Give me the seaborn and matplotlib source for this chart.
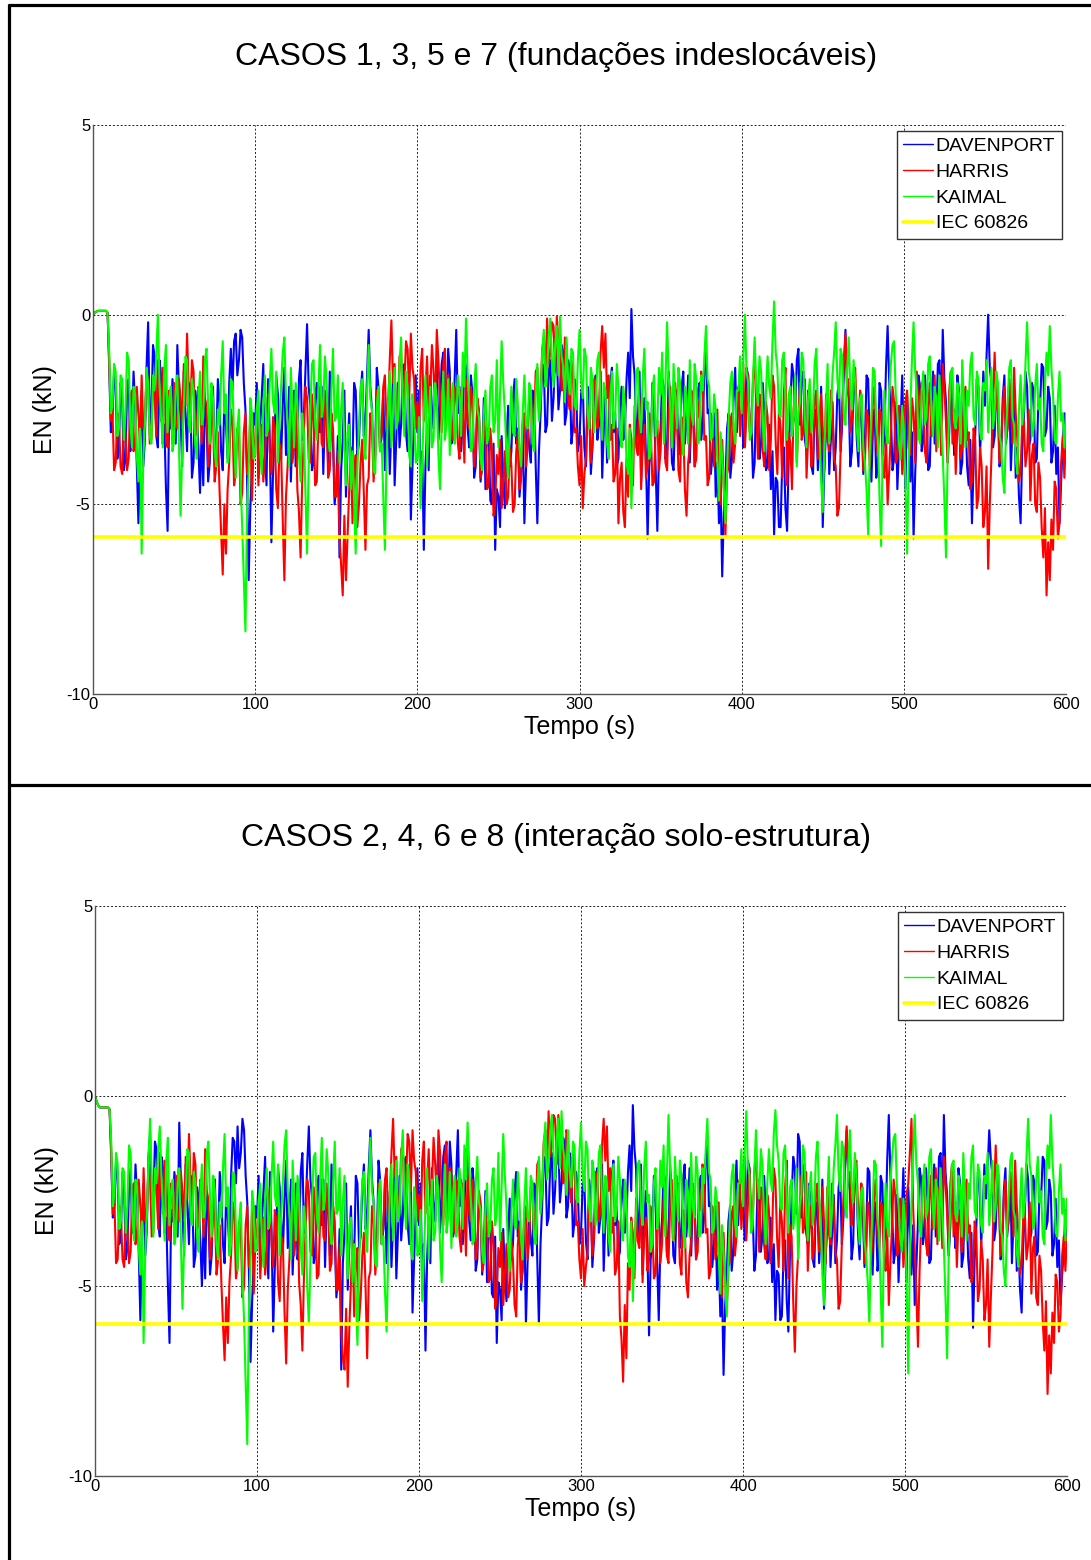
import numpy as np
import pandas as pd
import matplotlib
matplotlib.use("Agg")
import matplotlib.pyplot as plt
from matplotlib.lines import Line2D
import seaborn as sns

# ---------------------------------------------------------------- data
series_names = ["DAVENPORT", "HARRIS", "KAIMAL"]
iec_name = "IEC 60826"
series_colors = ["#0000ff", "#ff0000", "#00ff00"]
iec_color = "#ffff00"

title_top = "CASOS 1, 3, 5 e 7 (fundações indeslocáveis)"
title_bottom = "CASOS 2, 4, 6 e 8 (interação solo-estrutura)"
x_label = "Tempo (s)"
y_label = "EN (kN)"
x_ticks = [0, 100, 200, 300, 400, 500, 600]
y_ticks = [-10, -5, 0, 5]

# normal force (kN) sampled every second, 0 s .. 600 s -- fixed foundations
top_davenport = [
    0.0, 0.05, 0.08, 0.1, 0.1, 0.1, 0.1, 0.1, 0.1, 0.05,
    -1.4, -3.1, -2.7, -1.5, -1.9, -3.8, -3.4, -1.8, -2.2, -4.1,
    -3.8, -2.0, -1.7, -3.6, -3.1, -1.5, -2.4, -3.9, -5.5, -3.2,
    -2.0, -4.0, -3.3, -1.4, -0.2, -2.9, -2.6, -0.8, -1.1, -3.2,
    -3.5, -1.2, -1.6, -3.4, -2.9, -4.6, -5.7, -2.5, -3.0, -1.7,
    -2.2, -3.4, -0.8, -2.0, -2.7, -4.0, -1.5, -2.6, -3.6, -1.8,
    -2.1, -4.3, -3.9, -2.0, -2.4, -3.5, -4.7, -3.1, -4.5, -2.2,
    -2.8, -4.4, -3.9, -2.3, -1.9, -3.7, -3.4, -1.7, -2.3, -3.6,
    -4.1, -2.2, -2.9, -3.8, -1.8, -0.9, -2.0, -0.7, -0.5, -1.6,
    -1.2, -0.4, -0.6, -1.8, -2.5, -4.3, -7.0, -5.1, -4.0, -2.6,
    -2.9, -1.8, -4.3, -3.0, -2.2, -1.3, -3.6, -4.5, -1.7, -3.3,
    -6.0, -4.2, -3.2, -1.6, -2.1, -3.0, -3.8, -2.4, -1.4, -3.7,
    -2.9, -1.9, -4.4, -3.1, -2.0, -4.0, -3.5, -1.7, -1.2, -3.3,
    -2.7, -1.5, -0.25, -1.9, -2.4, -4.1, -3.9, -2.2, -1.8, -3.0,
    -3.1, -1.9, -4.2, -2.6, -2.3, -3.9, -1.5, -2.8, -3.4, -5.0,
    -4.5, -3.2, -6.4, -4.1, -3.3, -2.0, -4.8, -3.5, -2.6, -4.4,
    -3.9, -1.8, -2.0, -3.7, -3.4, -2.1, -1.5, -3.2, -2.8, -1.6,
    -0.4, -1.9, -2.5, -4.0, -3.7, -1.4, -1.9, -3.6, -3.2, -2.0,
    -4.1, -3.0, -2.2, -4.2, -3.0, -1.6, -4.5, -3.3, -1.8, -3.5,
    -2.9, -1.4, -1.3, -3.1, -3.6, -2.2, -5.4, -4.0, -2.7, -1.6,
    -3.1, -2.0, -4.8, -3.6, -6.2, -4.0, -2.9, -4.1, -1.6, -2.5,
    -3.0, -1.9, -1.2, -3.3, -2.4, -1.3, -1.0, -2.9, -2.7, -0.9,
    -1.5, -3.4, -3.2, -1.7, -0.4, -2.6, -1.9, -3.6, -2.8, -1.1,
    -1.4, -3.0, -3.5, -1.6, -2.1, -4.3, -4.0, -2.3, -2.6, -4.4,
    -3.8, -2.2, -4.6, -3.0, -3.1, -4.9, -5.0, -3.4, -6.2, -4.6,
    -4.8, -5.6, -3.2, -4.4, -5.1, -3.3, -2.4, -4.0, -3.6, -2.2,
    -1.7, -3.4, -3.0, -4.8, -4.2, -2.9, -5.5, -4.1, -2.8, -3.5,
    -3.9, -2.0, -2.1, -4.0, -5.5, -3.6, -2.6, -1.3, -1.4, -3.1,
    -2.9, -1.5, -1.2, -2.8, -2.2, -1.0, -0.9, -2.5, -2.0, -0.8,
    -1.0, -2.9, -2.6, -1.2, -1.5, -3.4, -3.0, -1.7, -2.1, -3.6,
    -3.3, -2.1, -1.8, -3.5, -4.0, -1.9, -2.3, -4.2, -3.5, -2.0,
    -1.6, -3.3, -2.9, -1.5, -4.3, -3.0, -2.0, -3.9, -3.2, -1.8,
    -1.4, -3.1, -2.6, -4.0, -3.8, -2.4, -1.9, -3.3, -3.0, -1.7,
    -1.0, -2.2, 0.15, -1.1, -1.6, -3.4, -2.8, -1.5, -4.4, -3.1,
    -2.2, -3.8, -5.9, -4.0, -3.4, -1.8, -2.5, -4.1, -5.7, -3.6,
    -3.0, -1.7, -1.9, -3.8, -3.6, -1.5, -2.4, -3.9, -4.1, -2.6,
    -2.0, -3.7, -3.3, -1.9, -1.5, -3.4, -2.7, -1.6, -3.9, -2.5,
    -2.2, -4.0, -3.4, -2.0, -1.8, -3.3, -2.9, -1.4, -1.0, -2.6,
    -2.5, -4.2, -3.7, -2.6, -4.8, -3.9, -5.5, -4.6, -6.9, -5.2,
    -4.4, -3.0, -2.6, -4.3, -3.8, -2.2, -1.4, -3.1, -2.2, -1.5,
    -2.0, -3.5, -3.3, -1.4, -1.6, -3.0, -2.8, -4.3, -3.9, -1.9,
    -2.2, -3.8, -3.4, -1.8, -2.6, -4.1, -4.0, -2.9, -4.6, -3.6,
    -5.8, -4.3, -4.4, -5.6, -5.6, -3.9, -3.5, -5.1, -5.7, -3.8,
    -2.4, -1.3, -1.6, -2.8, -1.2, -0.9, -2.9, -1.6, -1.5, -3.3,
    -3.6, -2.0, -2.1, -4.0, -4.2, -2.5, -2.7, -4.1, -3.3, -1.9,
    -5.6, -4.0, -3.1, -1.9, -4.2, -3.3, -2.3, -4.1, -3.5, -2.1,
    -1.8, -3.6, -2.9, -1.5, -0.4, -1.9, -2.2, -4.0, -3.6, -1.7,
    -1.9, -3.3, -4.0, -2.1, -2.8, -4.2, -3.4, -1.6, -1.7, -3.5,
    -4.4, -2.9, -2.5, -4.3, -3.9, -1.8, -2.0, -3.7, -3.2, -1.4,
    -0.3, -1.8, -2.6, -4.1, -3.8, -2.3, -4.6, -3.5, -2.9, -1.6,
    -3.5, -4.6, -2.1, -3.2, -4.4, -3.1, -5.9, -4.2, -3.0, -1.6,
    -1.9, -3.6, -3.3, -1.6, -2.4, -4.1, -4.0, -2.3, -1.5, -3.4,
    -2.7, -1.3, -1.2, -2.8, -0.4, -1.7, -2.3, -3.9, -3.1, -1.6,
    -1.8, -3.7, -3.5, -1.6, -2.0, -4.2, -3.9, -2.1, -2.6, -4.0,
    -4.5, -3.3, -5.5, -4.0, -3.2, -1.7, -1.9, -3.6, -2.8, -1.5,
    -2.4, -1.1, 0.0, -1.4, -1.8, -3.5, -3.2, -1.9, -2.1, -4.0,
    -3.7, -2.2, -1.6, -3.4, -2.9, -1.7, -4.1, -3.0, -2.3, -4.3,
    -3.5, -4.8, -5.5, -3.6, -2.7, -1.5, -1.9, -3.5, -3.3, -1.8,
    -2.0, -3.9, -3.8, -2.2, -2.4, -1.3, -1.4, -3.2, -3.0, -1.9,
    -2.2, -3.9, -3.6, -2.4, -4.2, -3.5, -5.5, -4.4, -3.4, -2.6,
    -3.4,
]
top_harris = [
    0.0, 0.05, 0.08, 0.1, 0.1, 0.1, 0.1, 0.1, 0.1, 0.05,
    -1.2, -2.8, -2.5, -4.1, -3.9, -2.6, -2.8, -4.0, -4.2, -3.0,
    -3.1, -4.1, -3.8, -2.2, -2.0, -3.6, -3.4, -1.9, -2.6, -3.5,
    -1.6, -3.0, -2.9, -1.5, -1.9, -3.4, -3.3, -1.8, -2.1, -3.2,
    -1.2, -2.3, -2.8, -1.4, -1.7, -3.3, -3.5, -2.0, -2.4, -3.4,
    -1.8, -2.9, -3.0, -1.7, -2.2, -3.0, -1.3, -2.4, -0.5, -1.9,
    -2.6, -1.2, -1.5, -3.2, -3.1, -1.9, -2.0, -3.4, -1.1, -2.2,
    -2.4, -4.0, -3.6, -2.3, -2.7, -4.4, -4.0, -3.1, -4.6, -5.7,
    -6.85, -5.0, -6.3, -4.6, -3.9, -2.5, -2.8, -4.5, -4.2, -3.0,
    -3.2, -5.0, -4.7, -3.1, -2.6, -4.2, -3.8, -2.7, -4.9, -3.5,
    -3.3, -2.4, -4.5, -3.3, -2.9, -4.4, -3.8, -2.5, -2.1, -3.6,
    -4.2, -2.7, -3.0, -4.6, -5.1, -3.4, -3.6, -5.4, -7.0, -4.8,
    -4.0, -2.9, -2.5, -3.9, -3.4, -2.3, -4.6, -5.2, -6.4, -4.4,
    -3.2, -1.9, -2.2, -3.8, -3.9, -2.1, -2.8, -4.5, -4.4, -2.9,
    -1.9, -3.4, -3.5, -2.0, -2.7, -4.3, -4.1, -2.6, -3.0, -4.8,
    -4.8, -3.6, -5.9, -6.6, -7.4, -5.3, -7.0, -5.8, -4.6, -3.5,
    -5.5, -4.2, -3.7, -5.6, -5.0, -3.9, -3.3, -4.7, -6.2, -4.5,
    -4.3, -2.6, -2.9, -4.4, -3.8, -2.0, -2.2, -3.6, -3.1, -1.9,
    -1.6, -3.0, -2.4, -1.2, -0.15, -1.8, -1.3, -2.9, -2.5, -1.1,
    -1.0, -2.6, -1.9, -0.7, -0.9, -2.2, -0.5, -1.4, -1.7, -3.0,
    -2.3, -3.3, -1.4, -0.9, -2.8, -2.0, -1.1, -2.6, -2.0, -0.8,
    -1.5, -2.4, -0.4, -1.2, -2.2, -3.1, -1.3, -0.9, -2.7, -1.6,
    -1.8, -3.0, -3.3, -1.9, -2.1, -3.4, -3.8, -2.0, -2.6, -3.9,
    -1.7, -2.8, -3.0, -1.9, -2.3, -4.0, -3.7, -2.2, -2.5, -4.3,
    -4.1, -2.8, -3.2, -4.6, -4.5, -3.0, -3.6, -5.3, -5.0, -3.7,
    -4.2, -3.3, -5.1, -4.4, -3.6, -5.0, -4.8, -3.5, -4.0, -5.2,
    -5.0, -3.6, -3.1, -4.6, -4.3, -2.8, -2.6, -4.0, -3.5, -2.1,
    -2.0, -3.4, -2.9, -1.5, -1.4, -2.7, -2.2, -0.9, -0.6, -1.7,
    -0.1, -1.3, -1.0, -0.2, -0.3, -1.5, -0.05, -0.7, -0.9, -2.0,
    -1.8, -0.6, -0.8, -2.2, -2.5, -1.2, -1.6, -3.1, -3.0, -4.0,
    -4.5, -3.2, -5.1, -4.2, -3.8, -2.4, -2.6, -3.9, -3.4, -1.7,
    -1.8, -3.0, -2.7, -1.0, -0.3, -1.4, -0.5, -2.2, -1.6, -3.3,
    -2.9, -4.4, -4.2, -3.0, -5.5, -4.3, -3.9, -5.2, -5.6, -3.8,
    -4.8, -2.9, -3.3, -4.5, -2.4, -3.5, -3.7, -2.2, -4.6, -3.4,
    -2.9, -4.3, -4.0, -2.6, -3.1, -4.5, -4.4, -3.0, -2.8, -4.1,
    -3.6, -2.4, -2.2, -3.9, -4.1, -2.6, -1.9, -3.5, -3.3, -1.8,
    -2.5, -4.1, -4.4, -2.7, -3.0, -4.6, -5.3, -3.9, -3.5, -2.0,
    -2.4, -4.0, -3.8, -2.3, -2.7, -1.5, -1.8, -3.3, -3.2, -4.5,
    -4.3, -2.6, -2.9, -4.0, -3.6, -2.5, -4.5, -5.0, -3.3, -4.6,
    -5.8, -4.2, -4.0, -2.8, -2.6, -3.9, -3.4, -2.1, -1.9, -3.2,
    -2.4, -1.3, -3.5, -2.6, -1.6, -3.1, -2.9, -1.7, -1.1, -2.5,
    -3.8, -2.1, -2.2, -3.6, -4.0, -2.3, -2.7, -4.1, -3.3, -1.6,
    -1.9, -3.4, -4.2, -2.5, -3.0, -4.3, -2.1, -1.4, -4.5, -3.1,
    -3.4, -4.6, -2.5, -1.9, -3.9, -2.8, -1.8, -3.3, -3.1, -1.7,
    -4.3, -3.2, -2.6, -4.0, -3.7, -2.2, -2.0, -3.8, -3.5, -2.1,
    -3.0, -4.1, -2.1, -3.3, -3.6, -2.0, -2.5, -3.8, -4.0, -5.3,
    -5.1, -3.6, -2.4, -1.3, -0.5, -1.9, -1.7, -3.1, -2.8, -1.6,
    -1.4, -2.6, -3.2, -2.0, -2.2, -4.1, -3.9, -2.5, -2.7, -4.0,
    -3.4, -2.2, -1.9, -3.4, -3.7, -2.5, -2.6, -4.0, -4.3, -3.2,
    -5.0, -4.1, -3.1, -1.9, -2.3, -3.9, -3.8, -2.4, -2.9, -4.2,
    -3.4, -2.3, -2.0, -3.5, -3.7, -2.2, -2.6, -3.9, -1.5, -2.4,
    -3.0, -1.8, -2.2, -3.6, -3.9, -2.4, -1.8, -3.2, -2.9, -1.6,
    -3.6, -2.1, -2.4, -3.7, -1.3, -2.0, -2.8, -3.9, -2.0, -1.5,
    -3.4, -2.5, -4.2, -3.0, -2.7, -3.8, -3.5, -2.3, -1.9, -3.3,
    -3.1, -4.6, -4.4, -3.0, -3.3, -5.1, -4.8, -3.5, -4.0, -5.6,
    -5.2, -4.0, -6.7, -5.0, -3.8, -2.2, -1.0, -2.3, -2.6, -3.9,
    -3.5, -2.4, -1.9, -3.3, -3.0, -1.7, -2.2, -3.4, -1.4, -2.6,
    -3.3, -4.4, -4.1, -2.9, -2.8, -4.0, -3.6, -2.5, -4.9, -3.7,
    -3.4, -5.0, -5.2, -3.9, -4.3, -5.6, -6.4, -5.1, -7.4, -6.0,
    -7.0, -5.4, -6.2, -4.4, -4.6, -5.9, -5.5, -3.9, -3.2, -4.3,
    -3.2,
]
top_kaimal = [
    0.0, 0.05, 0.08, 0.1, 0.1, 0.1, 0.1, 0.1, 0.1, 0.05,
    -1.0, -2.6, -2.4, -1.3, -1.5, -3.2, -3.0, -1.6, -1.7, -3.3,
    -2.6, -1.0, -1.2, -2.8, -3.5, -1.9, -2.1, -3.7, -4.4, -3.0,
    -6.3, -3.8, -2.9, -1.4, -1.8, -3.2, -3.4, -1.6, -2.0, -1.1,
    0.0, -1.8, -2.7, -3.5, -1.4, -0.8, -3.1, -2.2, -1.9, -3.6,
    -3.3, -2.0, -1.6, -3.4, -5.3, -3.6, -2.4, -1.1, -1.2, -2.9,
    -3.1, -1.7, -2.0, -3.4, -3.8, -2.3, -1.5, -2.9, -2.7, -1.2,
    -0.9, -2.4, -3.4, -1.8, -2.2, -3.6, -4.0, -2.5, -2.9, -1.6,
    -0.7, -2.6, -2.1, -3.9, -3.6, -1.7, -1.8, -3.2, -4.3, -3.0,
    -2.5, -4.4, -5.6, -7.0, -8.35, -5.2, -4.1, -2.2, -2.6, -3.8,
    -3.7, -2.5, -2.0, -3.5, -4.2, -2.4, -1.6, -3.2, -3.0, -1.8,
    -0.9, -2.3, -2.6, -1.5, -3.9, -2.8, -1.9, -1.0, -0.6, -2.2,
    -2.8, -4.0, -1.4, -2.5, -3.5, -1.8, -2.3, -3.7, -4.4, -2.6,
    -3.1, -4.7, -6.3, -4.0, -2.5, -1.3, -1.2, -2.9, -3.3, -1.9,
    -0.8, -2.7, -2.4, -1.1, -1.7, -3.2, -3.6, -2.0, -0.9, -2.8,
    -2.7, -1.6, -3.9, -2.5, -1.8, -3.4, -4.5, -3.1, -2.9, -4.6,
    -3.6, -4.9, -6.3, -4.1, -3.0, -1.9, -1.7, -3.3, -3.8, -2.0,
    -0.8, -2.2, -2.5, -4.1, -4.2, -2.4, -1.9, -3.6, -3.4, -4.8,
    -6.2, -3.9, -2.3, -1.5, -3.5, -2.6, -1.4, -3.0, -2.8, -1.3,
    -0.6, -2.4, -3.2, -1.5, -1.9, -3.7, -4.0, -2.1, -2.6, -3.9,
    -3.8, -2.7, -5.1, -3.9, -2.6, -1.6, -4.0, -2.8, -1.9, -3.5,
    -3.3, -1.8, -2.2, -3.7, -4.6, -2.9, -1.5, -3.3, -2.9, -1.7,
    -3.7, -2.3, -1.8, -3.4, -3.0, -1.6, -2.1, -3.2, -1.0, -1.9,
    -0.1, -1.5, -2.4, -3.6, -3.5, -2.0, -1.3, -2.5, -2.7, -3.8,
    -4.1, -2.6, -2.0, -3.4, -3.2, -1.9, -1.6, -3.1, -2.8, -1.2,
    -3.5, -2.1, -0.7, -1.8, -2.6, -3.7, -4.3, -2.8, -1.9, -3.1,
    -3.2, -1.7, -2.4, -3.5, -4.0, -2.6, -1.6, -2.9, -3.0, -1.8,
    -2.0, -3.4, -3.6, -2.1, -1.3, -2.8, -2.2, -1.0, -0.4, -1.9,
    -1.5, -0.6, -0.1, -1.2, -1.9, -0.8, -0.3, -1.6, -0.05, -1.1,
    -1.4, -2.3, -0.6, -1.7, -2.1, -0.9, -1.0, -2.4, -2.5, -1.2,
    -0.4, -1.7, -2.2, -0.9, -1.1, -2.6, -3.0, -1.4, -1.7, -3.1,
    -2.5, -1.2, -1.0, -2.4, -3.3, -1.8, -2.0, -3.4, -3.8, -2.2,
    -1.5, -3.0, -2.7, -1.3, -1.9, -3.2, -3.5, -1.9, -2.4, -3.9,
    -4.2, -3.0, -5.1, -3.6, -2.8, -1.5, -1.4, -2.7, -3.1, -1.6,
    -0.9, -2.5, -2.3, -3.8, -3.6, -2.0, -1.6, -3.2, -2.9, -1.4,
    -2.1, -1.0, -3.4, -1.8, -0.2, -1.6, -2.5, -3.5, -1.3, -2.2,
    -3.0, -1.4, -1.8, -3.2, -3.7, -1.9, -2.2, -3.4, -1.2, -2.6,
    -2.9, -1.3, -1.7, -3.4, -3.3, -1.6, -2.0, -1.1, -0.3, -1.7,
    -1.9, -3.3, -3.2, -2.1, -2.5, -3.9, -4.9, -3.1, -3.8, -4.6,
    -5.5, -4.0, -2.7, -1.8, -1.5, -3.0, -3.4, -2.0, -2.0, -1.1,
    -2.6, -1.2, 0.0, -1.5, -1.8, -3.3, -3.1, -1.7, -0.6, -1.9,
    -2.4, -1.1, -1.5, -2.9, -3.6, -2.0, -1.1, -1.9, -2.2, -0.7,
    0.35, -1.0, -1.4, -2.6, -2.7, -1.2, -1.0, -2.3, -3.3, -2.1,
    -1.9, -3.2, -2.8, -1.6, -4.0, -2.6, -2.3, -1.0, -1.2, -2.8,
    -3.5, -2.2, -1.7, -3.1, -2.6, -1.3, -0.9, -2.4, -3.0, -4.4,
    -5.2, -3.5, -2.4, -1.3, -3.4, -2.7, -1.6, -1.0, -0.2, -1.7,
    -2.2, -0.9, -1.1, -2.6, -2.9, -1.5, -0.6, -2.0, -2.5, -1.2,
    -1.8, -3.0, -3.6, -2.2, -2.1, -3.5, -3.9, -4.6, -5.8, -3.6,
    -2.7, -1.4, -1.5, -2.9, -3.3, -4.8, -6.1, -3.5, -2.0, -3.1,
    -3.4, -2.0, -1.3, -0.8, -0.7, -2.1, -2.6, -3.4, -3.8, -2.4,
    -3.0, -4.4, -6.3, -3.9, -2.5, -1.2, -0.2, -1.5, -2.0, -3.2,
    -3.4, -2.0, -1.5, -2.9, -2.7, -1.3, -1.1, -2.5, -3.2, -1.9,
    -2.2, -3.5, -1.6, -2.8, -3.7, -4.9, -6.4, -3.8, -2.6, -1.5,
    -1.4, -2.8, -3.0, -1.8, -2.1, -3.4, -1.2, -2.3, -3.5, -2.0,
    -2.4, -1.3, -1.0, -2.7, -2.9, -1.5, -1.7, -3.1, -3.3, -1.8,
    -2.0, -1.2, -3.1, -2.4, -1.4, -3.0, -2.6, -1.5, -1.8, -3.2,
    -3.4, -4.3, -4.7, -3.1, -2.3, -1.4, -1.2, -2.7, -2.9, -3.8,
    -4.2, -2.5, -1.6, -2.9, -2.5, -1.3, -0.2, -1.5, -1.8, -3.2,
    -3.0, -1.9, -1.3, -2.5, -2.2, -3.4, -3.6, -1.9, -1.0, -1.6,
    -0.3, -1.4, -2.1, -3.3, -3.4, -2.2, -1.5, -2.8, -2.6, -3.5,
    -2.6,
]
iec_top = -5.87

# normal force (kN) sampled every second, 0 s .. 600 s -- soil-structure interaction
bot_davenport = [
    0.0, -0.15, -0.25, -0.3, -0.3, -0.3, -0.3, -0.3, -0.3, -0.35,
    -1.6, -3.2, -2.9, -1.7, -2.1, -3.9, -3.6, -2.0, -2.5, -4.3,
    -4.0, -2.4, -1.9, -3.6, -3.3, -1.8, -2.7, -4.1, -5.9, -3.4,
    -2.3, -4.2, -3.5, -1.6, -1.0, -2.6, -2.9, -1.2, -1.4, -3.3,
    -3.7, -1.6, -1.9, -3.6, -3.2, -5.0, -6.5, -3.0, -3.3, -2.0,
    -2.5, -3.7, -0.7, -2.2, -3.0, -4.2, -1.8, -2.9, -3.9, -2.1,
    -2.4, -4.5, -4.2, -2.4, -2.7, -3.8, -5.0, -3.4, -4.8, -2.6,
    -3.1, -4.7, -4.2, -2.6, -2.2, -4.0, -3.7, -2.0, -2.6, -3.9,
    -4.4, -2.5, -3.2, -4.1, -2.1, -1.1, -1.2, -2.3, -0.8, -1.9,
    -1.5, -0.6, -0.9, -2.1, -2.8, -4.6, -7.0, -5.4, -4.3, -2.9,
    -3.2, -2.1, -4.6, -3.3, -2.5, -1.6, -3.9, -4.8, -2.0, -3.6,
    -6.2, -4.5, -3.5, -1.9, -2.4, -3.3, -4.1, -2.7, -1.7, -4.0,
    -3.2, -2.2, -4.7, -3.4, -2.3, -4.3, -3.8, -2.0, -1.5, -3.6,
    -3.0, -1.8, -0.8, -2.2, -2.7, -4.4, -4.2, -2.5, -2.1, -3.3,
    -3.4, -2.2, -4.5, -2.9, -2.6, -4.2, -1.8, -3.1, -3.7, -5.3,
    -4.8, -3.5, -7.2, -4.4, -3.6, -2.3, -5.1, -3.8, -2.9, -4.7,
    -4.2, -2.1, -2.3, -4.0, -3.7, -2.4, -1.8, -3.5, -3.1, -1.9,
    -0.9, -2.2, -2.8, -4.3, -4.0, -1.7, -2.2, -3.9, -3.5, -2.3,
    -4.4, -3.3, -2.5, -4.5, -3.3, -1.9, -4.8, -3.6, -2.1, -3.8,
    -3.2, -1.7, -1.6, -3.4, -3.9, -2.5, -5.7, -4.3, -3.0, -1.9,
    -3.4, -2.3, -5.1, -3.9, -6.7, -4.3, -3.2, -4.4, -1.9, -2.8,
    -3.3, -2.2, -1.5, -3.6, -2.7, -1.6, -1.3, -3.2, -3.0, -1.2,
    -1.8, -3.7, -3.5, -2.0, -0.9, -2.9, -2.2, -3.9, -3.1, -1.4,
    -1.7, -3.3, -3.8, -1.9, -2.4, -4.6, -4.3, -2.6, -2.9, -4.7,
    -4.1, -2.5, -4.9, -3.3, -3.4, -5.2, -5.3, -3.7, -6.5, -4.9,
    -5.1, -5.9, -3.5, -4.7, -5.4, -3.6, -2.7, -4.3, -3.9, -2.5,
    -2.0, -3.7, -3.3, -5.1, -4.5, -3.2, -6.0, -4.4, -3.1, -3.8,
    -4.2, -2.3, -2.4, -4.3, -6.0, -3.9, -2.9, -1.6, -1.7, -3.4,
    -3.2, -1.8, -1.5, -3.1, -2.5, -1.3, -1.2, -2.8, -2.3, -1.1,
    -1.3, -3.2, -2.9, -1.5, -1.8, -3.7, -3.3, -2.0, -2.4, -3.9,
    -3.6, -2.4, -2.1, -3.8, -4.3, -2.2, -2.6, -4.5, -3.8, -2.3,
    -1.9, -3.6, -3.2, -1.8, -4.6, -3.3, -2.3, -4.2, -3.5, -2.1,
    -1.7, -3.4, -2.9, -4.3, -4.1, -2.7, -2.2, -3.6, -3.3, -2.0,
    -1.3, -2.5, -0.24, -1.4, -1.9, -3.7, -3.1, -1.8, -4.7, -3.4,
    -2.5, -4.1, -6.3, -4.3, -3.7, -2.1, -2.8, -4.4, -5.9, -3.9,
    -3.3, -2.0, -2.2, -4.1, -3.9, -1.8, -2.7, -4.2, -4.4, -2.9,
    -2.3, -4.0, -3.6, -2.2, -1.8, -3.7, -3.0, -1.9, -4.2, -2.8,
    -2.5, -4.3, -3.7, -2.3, -2.1, -3.6, -3.2, -1.7, -1.3, -2.9,
    -2.8, -4.5, -4.0, -2.9, -5.1, -4.2, -5.8, -4.9, -7.34, -5.5,
    -4.7, -3.3, -2.9, -4.6, -4.1, -2.5, -1.7, -3.4, -2.5, -1.8,
    -2.3, -3.8, -3.6, -1.7, -1.9, -3.3, -3.1, -4.6, -4.2, -2.2,
    -2.5, -4.1, -3.7, -2.1, -2.9, -4.4, -4.3, -3.2, -4.9, -3.9,
    -5.9, -4.6, -4.7, -5.9, -5.8, -4.2, -3.8, -5.4, -6.2, -4.1,
    -2.7, -1.6, -1.9, -3.1, -1.0, -1.2, -3.2, -1.9, -1.8, -3.6,
    -3.9, -2.3, -2.4, -4.3, -4.5, -2.8, -3.0, -4.4, -3.6, -2.2,
    -5.6, -4.3, -3.4, -2.2, -4.5, -3.6, -2.6, -4.4, -3.8, -2.4,
    -2.1, -3.9, -3.2, -1.8, -0.9, -2.2, -2.5, -4.3, -3.9, -2.0,
    -2.2, -3.6, -4.3, -2.4, -3.1, -4.5, -3.7, -1.9, -2.0, -3.8,
    -4.7, -3.2, -2.8, -4.6, -4.2, -2.1, -2.3, -4.0, -3.5, -1.7,
    -0.5, -2.1, -2.9, -4.4, -4.1, -2.6, -4.9, -3.8, -3.2, -1.9,
    -3.8, -4.9, -2.4, -3.5, -4.7, -3.4, -5.5, -4.5, -3.3, -1.9,
    -2.2, -3.9, -3.6, -1.9, -2.7, -4.4, -4.3, -2.6, -1.8, -3.7,
    -3.0, -1.6, -1.5, -3.1, -0.5, -2.0, -2.6, -4.2, -3.4, -1.9,
    -2.1, -4.0, -3.8, -1.9, -2.3, -4.5, -4.2, -2.4, -2.9, -4.3,
    -4.8, -3.6, -6.1, -4.3, -3.5, -2.0, -2.2, -3.9, -3.1, -1.8,
    -2.7, -1.9, -0.9, -1.7, -2.1, -3.8, -3.5, -2.2, -2.4, -4.3,
    -4.0, -2.5, -1.9, -3.7, -3.2, -2.0, -4.4, -3.3, -2.6, -4.6,
    -3.8, -5.1, -5.7, -3.9, -3.0, -1.8, -2.2, -3.8, -3.6, -2.1,
    -2.3, -4.2, -4.1, -2.5, -2.7, -1.6, -1.7, -3.5, -3.3, -2.2,
    -2.5, -4.2, -3.9, -2.7, -4.5, -3.8, -5.5, -4.7, -4.1, -3.0,
    -4.1,
]
bot_harris = [
    0.0, -0.15, -0.25, -0.3, -0.3, -0.3, -0.3, -0.3, -0.3, -0.35,
    -1.4, -3.1, -2.8, -4.4, -4.3, -2.9, -3.1, -4.3, -4.5, -3.3,
    -3.4, -4.4, -4.1, -2.5, -2.3, -3.9, -3.7, -2.2, -2.9, -3.8,
    -1.9, -3.3, -3.2, -1.8, -2.2, -3.7, -3.6, -2.1, -2.4, -3.5,
    -1.5, -2.6, -3.1, -1.7, -2.0, -3.6, -3.8, -2.3, -2.7, -3.7,
    -2.1, -3.2, -3.3, -2.0, -2.5, -3.3, -1.6, -2.7, -1.0, -2.2,
    -2.9, -1.5, -1.8, -3.5, -3.4, -2.2, -2.3, -3.7, -1.4, -2.5,
    -2.7, -4.3, -3.9, -2.6, -3.0, -4.7, -4.3, -3.4, -4.9, -6.0,
    -6.95, -5.3, -6.5, -4.9, -4.2, -2.8, -3.1, -4.8, -4.5, -3.3,
    -3.5, -5.3, -5.0, -3.4, -2.9, -4.5, -4.1, -3.0, -5.2, -3.8,
    -3.6, -2.7, -4.8, -3.6, -3.2, -4.7, -4.1, -2.8, -2.4, -3.9,
    -4.5, -3.0, -3.3, -4.9, -5.4, -3.7, -3.9, -5.7, -7.04, -5.1,
    -4.3, -3.2, -2.8, -4.2, -3.7, -2.6, -4.9, -5.5, -6.7, -4.7,
    -3.5, -2.2, -2.5, -4.1, -4.2, -2.4, -3.1, -4.8, -4.7, -3.2,
    -2.2, -3.7, -3.8, -2.3, -3.0, -4.6, -4.4, -2.9, -3.3, -5.1,
    -5.1, -3.9, -6.2, -6.9, -7.2, -5.6, -7.65, -6.1, -4.9, -3.8,
    -5.8, -4.5, -4.0, -5.9, -5.3, -4.2, -3.6, -5.0, -6.9, -4.8,
    -4.6, -2.9, -3.2, -4.7, -4.1, -2.3, -2.5, -3.9, -3.4, -2.2,
    -1.9, -3.3, -2.7, -1.5, -0.6, -2.1, -1.6, -3.2, -2.8, -1.4,
    -1.3, -2.9, -2.2, -1.0, -1.2, -2.5, -0.9, -1.7, -2.0, -3.3,
    -2.6, -3.6, -1.7, -1.2, -3.1, -2.3, -1.4, -2.9, -2.3, -1.1,
    -1.8, -2.7, -0.9, -1.5, -2.5, -3.4, -1.6, -1.2, -3.0, -1.9,
    -2.1, -3.3, -3.6, -2.2, -2.4, -3.7, -4.1, -2.3, -2.9, -4.2,
    -2.0, -3.1, -3.3, -2.2, -2.6, -4.3, -4.0, -2.5, -2.8, -4.6,
    -4.4, -3.1, -3.5, -4.9, -4.8, -3.3, -3.9, -5.6, -5.3, -4.0,
    -4.5, -3.6, -5.5, -4.7, -3.9, -5.3, -5.1, -3.8, -4.3, -5.5,
    -5.8, -3.9, -3.4, -4.9, -4.6, -3.1, -2.9, -4.3, -3.8, -2.4,
    -2.3, -3.7, -3.2, -1.8, -1.7, -3.0, -2.5, -1.2, -0.9, -2.0,
    -0.4, -1.6, -1.3, -0.5, -0.6, -1.8, -0.5, -1.0, -1.2, -2.3,
    -2.1, -0.9, -1.1, -2.5, -2.8, -1.5, -1.9, -3.4, -3.3, -4.3,
    -4.8, -3.5, -5.0, -4.5, -4.1, -2.7, -2.9, -4.2, -3.7, -2.0,
    -2.1, -3.3, -3.0, -1.3, -0.6, -1.7, -0.8, -2.5, -1.9, -3.6,
    -3.2, -4.7, -4.5, -3.3, -5.8, -6.4, -7.52, -5.5, -6.9, -4.4,
    -5.1, -3.2, -3.6, -4.8, -2.7, -3.8, -4.0, -2.5, -4.9, -3.7,
    -3.2, -4.6, -4.3, -2.9, -3.4, -4.8, -4.7, -3.3, -3.1, -4.4,
    -3.9, -2.7, -2.5, -4.2, -4.4, -2.9, -2.2, -3.8, -3.6, -2.1,
    -2.8, -4.4, -4.7, -3.0, -3.3, -4.9, -5.3, -4.2, -3.8, -2.3,
    -2.7, -4.3, -4.1, -2.6, -3.0, -1.8, -2.1, -3.6, -3.5, -4.8,
    -4.6, -2.9, -3.2, -4.3, -3.9, -2.8, -4.8, -5.3, -3.6, -4.9,
    -5.6, -4.5, -4.3, -3.1, -2.9, -4.2, -3.7, -2.4, -2.2, -3.5,
    -2.7, -1.6, -3.8, -2.9, -1.9, -3.4, -3.2, -2.0, -1.4, -2.8,
    -4.1, -2.4, -2.5, -3.9, -4.3, -2.6, -3.0, -4.4, -3.6, -1.9,
    -2.2, -3.7, -4.5, -2.8, -3.3, -4.6, -2.4, -1.7, -4.8, -3.4,
    -3.7, -5.4, -6.73, -5.0, -4.2, -3.1, -2.1, -3.6, -3.4, -2.0,
    -4.6, -3.5, -2.9, -4.3, -4.0, -2.5, -2.3, -4.1, -3.8, -2.4,
    -3.3, -4.4, -2.4, -3.6, -3.9, -2.3, -2.8, -4.1, -4.3, -5.6,
    -5.4, -3.9, -2.7, -1.6, -0.8, -2.2, -2.0, -3.4, -3.1, -1.9,
    -1.7, -2.9, -3.5, -2.3, -2.5, -4.4, -4.2, -2.8, -3.0, -4.3,
    -3.7, -2.5, -2.2, -3.7, -4.0, -2.8, -2.9, -4.3, -4.6, -3.5,
    -5.5, -4.4, -3.4, -2.2, -2.6, -4.2, -4.1, -2.7, -3.2, -4.5,
    -3.7, -2.6, -2.3, -1.5, -0.6, -2.9, -4.0, -5.2, -6.6, -4.6,
    -3.3, -2.1, -2.5, -3.9, -4.2, -2.7, -2.1, -3.5, -3.2, -1.9,
    -3.9, -2.4, -2.7, -4.0, -1.6, -2.3, -3.1, -4.2, -2.3, -1.8,
    -3.7, -2.8, -4.5, -3.3, -3.0, -4.1, -3.8, -2.6, -2.2, -3.6,
    -3.4, -4.9, -4.7, -3.3, -3.6, -5.4, -5.1, -3.8, -4.3, -5.9,
    -5.5, -4.3, -6.6, -5.3, -4.1, -2.5, -1.3, -2.6, -2.9, -4.2,
    -3.8, -2.7, -2.2, -3.6, -3.3, -2.0, -2.5, -3.7, -1.7, -2.9,
    -3.6, -4.7, -4.4, -3.2, -3.1, -4.3, -3.9, -2.8, -5.2, -4.0,
    -3.7, -5.3, -5.5, -4.2, -4.6, -5.9, -6.7, -5.4, -7.84, -6.3,
    -7.3, -5.7, -6.5, -4.7, -4.9, -6.2, -5.8, -4.2, -3.7, -4.6,
    -3.7,
]
bot_kaimal = [
    0.0, -0.15, -0.25, -0.3, -0.3, -0.3, -0.3, -0.3, -0.3, -0.35,
    -1.2, -2.9, -2.6, -1.5, -1.8, -3.5, -3.3, -1.9, -2.0, -3.6,
    -2.9, -1.3, -1.5, -3.1, -3.8, -2.2, -2.4, -4.0, -4.7, -3.3,
    -6.5, -4.1, -3.2, -1.7, -0.6, -2.1, -3.7, -1.9, -2.3, -1.4,
    -0.8, -2.1, -3.0, -3.8, -1.7, -1.1, -3.4, -2.5, -2.2, -3.9,
    -3.6, -2.3, -1.9, -3.7, -5.6, -3.9, -2.7, -1.4, -1.5, -3.2,
    -3.4, -2.0, -2.3, -3.7, -4.1, -2.6, -1.8, -3.2, -3.0, -1.5,
    -1.2, -2.7, -3.7, -2.1, -2.5, -3.9, -4.3, -2.8, -3.2, -1.9,
    -1.0, -2.9, -2.4, -4.2, -3.9, -2.0, -2.1, -3.5, -4.6, -3.3,
    -2.8, -4.7, -5.9, -7.5, -9.16, -5.6, -4.4, -2.5, -2.9, -4.1,
    -4.0, -2.8, -2.3, -3.8, -4.5, -2.7, -1.9, -3.5, -3.3, -2.1,
    -1.2, -2.6, -2.9, -1.8, -4.2, -3.1, -2.2, -1.3, -0.9, -2.5,
    -3.1, -4.3, -1.7, -2.8, -3.8, -2.1, -2.6, -4.0, -4.7, -2.9,
    -3.4, -5.0, -6.0, -4.3, -2.8, -1.6, -1.5, -3.2, -3.6, -2.2,
    -1.1, -3.0, -2.7, -1.4, -2.0, -3.5, -3.9, -2.3, -1.2, -3.1,
    -3.0, -1.9, -4.2, -2.8, -2.1, -3.7, -4.8, -3.4, -3.2, -4.9,
    -3.9, -5.2, -6.55, -4.4, -3.3, -2.2, -2.0, -3.6, -4.1, -2.3,
    -1.1, -2.5, -2.8, -4.4, -4.5, -2.7, -2.2, -3.9, -3.7, -5.1,
    -6.2, -4.2, -2.6, -1.8, -3.8, -2.9, -1.7, -3.3, -3.1, -1.6,
    -0.9, -2.7, -3.5, -1.8, -2.2, -4.0, -4.3, -2.4, -2.9, -4.2,
    -4.1, -3.0, -5.4, -4.2, -2.9, -1.9, -4.3, -3.1, -2.2, -3.8,
    -3.6, -2.1, -2.5, -4.0, -4.9, -3.2, -1.8, -3.6, -3.2, -2.0,
    -4.0, -2.6, -2.1, -3.7, -3.3, -1.9, -2.4, -3.5, -1.3, -2.2,
    -0.7, -1.8, -2.7, -3.9, -3.8, -2.3, -1.6, -2.8, -3.0, -4.1,
    -4.4, -2.9, -2.3, -3.7, -3.5, -2.2, -1.9, -3.4, -3.1, -1.5,
    -3.8, -2.4, -1.0, -2.1, -2.9, -4.0, -4.6, -3.1, -2.2, -3.4,
    -3.5, -2.0, -2.7, -3.8, -4.3, -2.9, -1.9, -3.2, -3.3, -2.1,
    -2.3, -3.7, -3.9, -2.4, -1.6, -3.1, -2.5, -1.3, -0.7, -2.2,
    -1.8, -0.9, -0.5, -1.5, -2.2, -1.1, -0.6, -1.9, -0.4, -1.4,
    -1.7, -2.6, -0.9, -2.0, -2.4, -1.2, -1.3, -2.7, -2.8, -1.5,
    -0.7, -2.0, -2.5, -1.2, -1.4, -2.9, -3.3, -1.7, -2.0, -3.4,
    -2.8, -1.5, -1.3, -2.7, -3.6, -2.1, -2.3, -3.7, -4.1, -2.5,
    -1.8, -3.3, -3.0, -1.6, -2.2, -3.5, -3.8, -2.2, -2.7, -4.2,
    -4.5, -3.3, -5.4, -3.9, -3.1, -1.8, -1.7, -3.0, -3.4, -1.9,
    -1.2, -2.8, -2.6, -4.1, -3.9, -2.3, -1.9, -3.5, -3.2, -1.7,
    -2.4, -1.3, -3.7, -2.1, -0.5, -1.9, -2.8, -3.8, -1.6, -2.5,
    -3.3, -1.7, -2.1, -3.5, -4.0, -2.2, -2.5, -3.7, -1.5, -2.9,
    -3.2, -1.6, -2.0, -3.7, -3.6, -1.9, -2.3, -1.4, -0.6, -2.0,
    -2.2, -3.6, -3.5, -2.4, -2.8, -4.2, -5.2, -3.4, -4.1, -4.9,
    -5.8, -4.3, -3.0, -2.1, -1.8, -3.3, -3.7, -2.3, -2.3, -1.4,
    -2.9, -1.5, -0.4, -1.8, -2.1, -3.6, -3.4, -2.0, -0.9, -2.2,
    -2.7, -1.4, -1.8, -3.2, -3.9, -2.3, -1.4, -2.2, -2.5, -1.0,
    -0.37, -1.3, -1.7, -2.9, -3.0, -1.5, -1.3, -2.6, -3.6, -2.4,
    -2.2, -3.5, -3.1, -1.9, -4.3, -2.9, -2.6, -1.3, -1.5, -3.1,
    -3.8, -2.5, -2.0, -3.4, -2.9, -1.6, -1.2, -2.7, -3.3, -4.7,
    -5.5, -3.8, -2.7, -1.6, -3.7, -3.0, -1.9, -1.3, -0.5, -2.0,
    -2.5, -1.2, -1.4, -2.9, -3.2, -1.8, -0.9, -2.3, -2.8, -1.5,
    -2.1, -3.3, -3.9, -2.5, -2.4, -3.8, -4.2, -4.9, -6.0, -3.9,
    -3.0, -1.7, -1.8, -3.2, -3.6, -5.1, -6.6, -3.8, -2.3, -3.4,
    -3.7, -2.3, -1.6, -1.1, -1.0, -2.4, -2.9, -3.7, -4.1, -2.7,
    -3.3, -4.9, -7.3, -4.2, -2.8, -1.5, -0.5, -1.8, -2.3, -3.5,
    -3.7, -2.3, -1.8, -3.2, -3.0, -1.6, -1.4, -2.8, -3.5, -2.2,
    -2.5, -3.8, -1.9, -3.1, -4.0, -5.3, -6.9, -4.1, -2.9, -1.8,
    -1.7, -3.1, -3.3, -2.1, -2.4, -3.7, -1.5, -2.6, -3.8, -2.3,
    -2.7, -1.6, -1.3, -3.0, -3.2, -1.8, -2.0, -3.4, -3.6, -2.1,
    -2.3, -1.5, -3.4, -2.7, -1.7, -3.3, -2.9, -1.8, -2.1, -3.5,
    -3.7, -4.6, -5.0, -3.4, -2.6, -1.7, -1.5, -3.0, -3.2, -4.1,
    -4.5, -2.8, -1.9, -3.2, -2.8, -1.6, -0.6, -1.8, -2.1, -3.5,
    -3.3, -2.2, -1.6, -2.8, -2.5, -3.7, -3.9, -2.2, -1.3, -1.9,
    -0.5, -1.7, -2.4, -3.6, -3.7, -2.5, -1.8, -3.1, -2.7, -3.8,
    -2.7,
]
iec_bottom = -5.99

T_START, T_END = 0, 600

# ---------------------------------------------------------------- style
sns.set_style("white")
plt.rcParams["font.family"] = ["Liberation Sans", "DejaVu Sans"]
plt.rcParams["axes.unicode_minus"] = False
plt.rcParams["text.color"] = "black"
plt.rcParams["axes.labelcolor"] = "black"

fig = plt.figure(figsize=(10.91, 15.6), dpi=100)

W, H = 1091.0, 1560.0


def panel_axes(left, top, right, bottom):
    return fig.add_axes([left / W, 1 - bottom / H, (right - left) / W, (bottom - top) / H])


def draw_panel(ax, curves, iec_value):
    frames = []
    for name, vals in zip(series_names, curves):
        t = np.linspace(T_START, T_END, len(vals))
        frames.append(pd.DataFrame({"t": t, "en": vals, "modelo": name}))
    df = pd.concat(frames, ignore_index=True)
    sns.lineplot(data=df, x="t", y="en", hue="modelo", hue_order=series_names,
                 palette=dict(zip(series_names, series_colors)),
                 estimator=None, sort=False, linewidth=1.5, legend=False, ax=ax)
    iec_df = pd.DataFrame({"t": [T_START, T_END], "en": [iec_value, iec_value]})
    sns.lineplot(data=iec_df, x="t", y="en", color=iec_color, linewidth=2.6,
                 estimator=None, legend=False, ax=ax)

    ax.set_xlim(T_START, T_END)
    ax.set_ylim(-10, 5)
    ax.set_xticks(x_ticks)
    ax.set_yticks(y_ticks)
    ax.set_xticklabels([str(v) for v in x_ticks])
    ax.set_yticklabels([str(v) for v in y_ticks])
    ax.grid(True, linestyle=(0, (2, 2)), color="#222222", linewidth=0.7)
    ax.set_axisbelow(True)
    for side in ("top", "right"):
        ax.spines[side].set_visible(False)
    for side in ("left", "bottom"):
        ax.spines[side].set_color("#555555")
        ax.spines[side].set_linewidth(1.0)
    ax.tick_params(axis="both", direction="in", length=4, width=0.8,
                   color="#555555", labelsize=12, labelcolor="#000000", pad=2)

    ax.set_xlabel(x_label, fontsize=18, labelpad=2)
    ax.set_ylabel(y_label, fontsize=18)
    ax.yaxis.set_label_coords(-0.037, 0.5)

    handles = [Line2D([0], [0], color=c, linewidth=1.0) for c in series_colors]
    handles.append(Line2D([0], [0], color=iec_color, linewidth=2.6))
    leg = ax.legend(handles, series_names + [iec_name], loc="upper right",
                    bbox_to_anchor=(0.996, 0.99), borderaxespad=0, fontsize=14,
                    handlelength=1.55, handletextpad=0.12, labelspacing=0.42,
                    borderpad=0.35, fancybox=False, framealpha=1, shadow=False)
    leg.get_frame().set_edgecolor("#333333")
    leg.get_frame().set_linewidth(1.0)


ax_top = panel_axes(93, 125, 1066, 694)
draw_panel(ax_top, [top_davenport, top_harris, top_kaimal], iec_top)

ax_bot = panel_axes(95, 906, 1067, 1476)
draw_panel(ax_bot, [bot_davenport, bot_harris, bot_kaimal], iec_bottom)

fig.text(556 / W, 1 - 57 / H, title_top, ha="center", va="center", fontsize=23)
fig.text(556 / W, 1 - 838 / H, title_bottom, ha="center", va="center", fontsize=23)

# panel frame lines
frame_kw = dict(color="black", linewidth=2.3, transform=fig.transFigure, solid_capstyle="butt")
fig.add_artist(Line2D([9 / W, 9 / W], [0, 1 - 4 / H], **frame_kw))
fig.add_artist(Line2D([8 / W, 1], [1 - 5 / H, 1 - 5 / H], **frame_kw))
fig.add_artist(Line2D([8 / W, 1], [1 - 785 / H, 1 - 785 / H], **frame_kw))

fig.savefig("out.png", dpi=100)
